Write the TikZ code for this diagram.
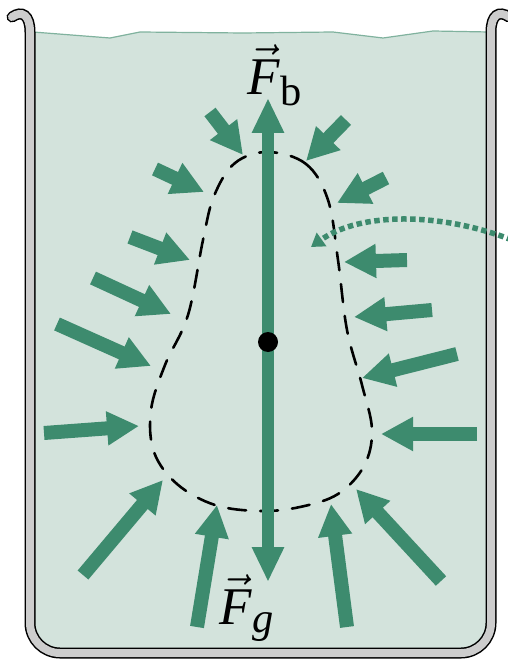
\documentclass[tikz,border=0pt]{standalone}
\usepackage{amsmath}
\usepackage{graphicx}
\usepackage{fontspec}
\setmainfont{Liberation Serif}
\usetikzlibrary{arrows.meta}
\definecolor{water}{RGB}{211,227,220}
\definecolor{wave}{RGB}{128,178,158}
\definecolor{force}{RGB}{61,139,110}
\definecolor{wallgray}{RGB}{205,205,205}
\tikzset{
  force/.style={draw=force, line width=14pt, -{Triangle[width=32pt,length=32pt]}},
  mainforce/.style={draw=force, line width=12pt, -{Triangle[width=30pt,length=35pt]}},
  outline/.style={draw=black, line width=2.6pt, dash pattern=on 18pt off 14pt, line cap=round},
  dotarrow/.style={draw=force, line width=5.5pt, dash pattern=on 5.5pt off 3.5pt, -{Triangle[width=16pt,length=13pt]}},
  lab/.style={inner sep=0pt}
}
\begin{document}
\begin{tikzpicture}[x=1pt,y=-1pt]
\useasboundingbox (0,0) rectangle (507,660);
% water
\fill[water] (33,32) -- (110,38) -- (140,32) -- (243,33) -- (333,32) -- (383,38) -- (433,31) -- (489,32)
  -- (489,620) .. controls (489,637) and (476,650) .. (459,650) -- (63,650) .. controls (46,650) and (33,637) .. (33,620) -- cycle;
\draw[wave, line width=1.2pt] (33,32) -- (110,38) -- (140,32) -- (243,33) -- (333,32) -- (383,38) -- (433,31) -- (489,32);
% beaker wall
\def\wallpath{(12,17) .. controls (22,10) and (30,15) .. (30,32) -- (30,623) .. controls (30,639.5) and (43.5,653) .. (60,653) -- (461,653) .. controls (477.5,653) and (491,639.5) .. (491,623) -- (491,32) .. controls (491,15) and (499,10) .. (509,17)}
\draw[black, line width=11pt, line cap=round] \wallpath;
\draw[wallgray, line width=8pt, line cap=round] \wallpath;
% dashed outline of the volume
\draw[outline] plot[smooth cycle, tension=0.6] coordinates {
 (268,152) (306,164) (328,200) (338,260) (347,330) (362,385) (372,430)
 (364,466) (338,494) (300,507) (260,511) (215,505) (177,484) (154,452)
 (151,410) (165,365) (188,315) (203,240) (214,196) (235,163)};
% pressure forces
\coordinate (a1s) at (210,112); \coordinate (a1e) at (243,155);
\coordinate (a2s) at (155,169); \coordinate (a2e) at (204,192);
\coordinate (a3s) at (130,237); \coordinate (a3e) at (190,260);
\coordinate (a4s) at (93,278);  \coordinate (a4e) at (171,314);
\coordinate (a5s) at (57,324);  \coordinate (a5e) at (151,366);
\coordinate (a6s) at (44,433);  \coordinate (a6e) at (139,426);
\coordinate (a7s) at (83,575);  \coordinate (a7e) at (163,480);
\coordinate (a8s) at (197,627); \coordinate (a8e) at (217,505);
\coordinate (b1s) at (346,120); \coordinate (b1e) at (306,161);
\coordinate (b2s) at (386,178); \coordinate (b2e) at (337,203);
\coordinate (b3s) at (407,260); \coordinate (b3e) at (344,262);
\coordinate (b4s) at (432,310); \coordinate (b4e) at (354,317);
\coordinate (b5s) at (457,354); \coordinate (b5e) at (362,378);
\coordinate (b6s) at (477,434); \coordinate (b6e) at (381,434);
\coordinate (b7s) at (441,581); \coordinate (b7e) at (356,489);
\coordinate (b8s) at (347,627); \coordinate (b8e) at (331,504);
\foreach \p in {a1,a2,a3,a4,a5,a6,a7,a8,b1,b2,b3,b4,b5,b6,b7,b8}
  \draw[force] (\p s) -- (\p e);
% buoyant force and weight
\coordinate (cm) at (268,342);
\coordinate (top) at (268,98);
\coordinate (bot) at (268,582);
\draw[mainforce] (cm) -- (top);
\draw[mainforce] (cm) -- (bot);
\fill[black] (cm) circle[radius=10pt];
\node[lab] (Fb) at (276,75) {\scalebox{5.3}{$\vec{\text{\itshape F}}_{\text{\fontsize{8}{8}\selectfont b}}$}};
\node[lab] (Fg) at (248,608) {\scalebox{5.3}{$\vec{\text{\itshape F}}_{\text{\fontsize{8}{8}\selectfont\itshape g}}$}};
% dotted pointer
\coordinate (dA) at (512,240);
\coordinate (dB) at (311,247);
\draw[dotarrow] (dA) .. controls (440,212) and (360,212) .. (dB);
\end{tikzpicture}
\end{document}
